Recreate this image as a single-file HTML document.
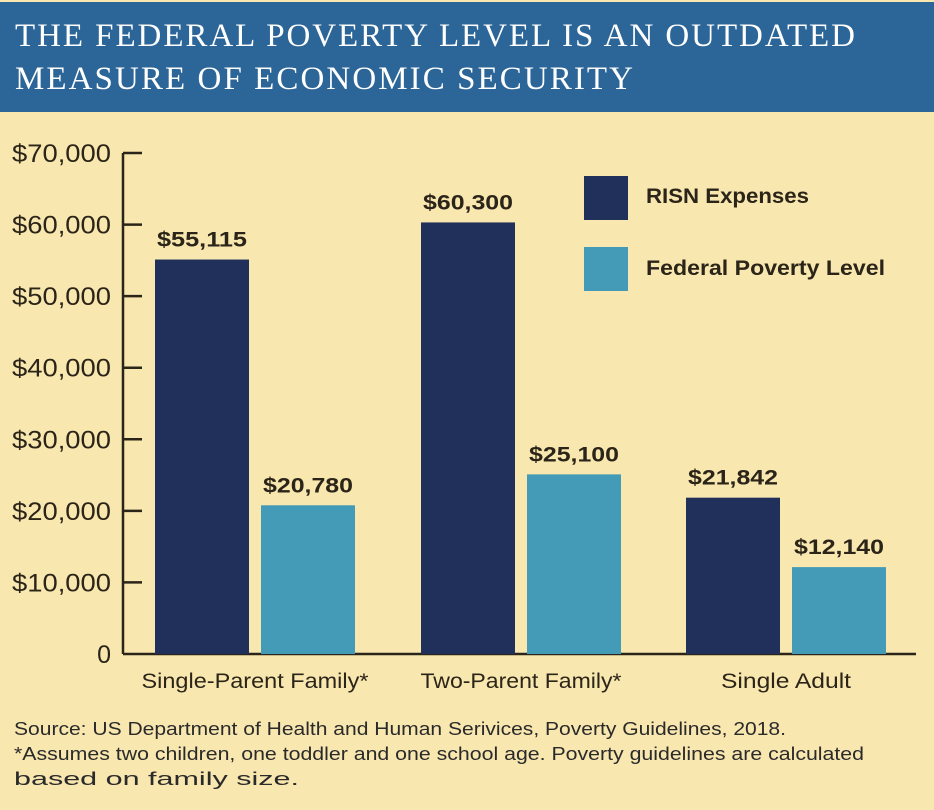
<!DOCTYPE html>
<html><head><meta charset="utf-8"><style>
body{margin:0;width:934px;height:810px;background:#f9e7b0;overflow:hidden;font-family:"Liberation Sans",sans-serif}
#hdr{position:absolute;left:0;top:2px;width:934px;height:110px;background:#2c6597}
</style></head><body>
<div id="hdr"></div>
<svg id="chart" width="934" height="810" style="position:absolute;left:0;top:0">
<text x="15" y="46" font-family="Liberation Serif, serif" font-size="33" fill="#fff" textLength="840" lengthAdjust="spacing">THE FEDERAL POVERTY LEVEL IS AN OUTDATED</text>
<text x="15" y="89" font-family="Liberation Serif, serif" font-size="33" fill="#fff" textLength="618" lengthAdjust="spacing">MEASURE OF ECONOMIC SECURITY</text>
<g font-size="18.5" fill="#2a2a2a">
<text x="14" y="735" textLength="772" lengthAdjust="spacingAndGlyphs">Source: US Department of Health and Human Serivices, Poverty Guidelines, 2018.</text>
<text x="14" y="760" textLength="850" lengthAdjust="spacingAndGlyphs">*Assumes two children, one toddler and one school age. Poverty guidelines are calculated</text>
<text x="14" y="785" textLength="285" lengthAdjust="spacingAndGlyphs">based on family size.</text>
</g>
</svg>
<script>
const categories=["Single-Parent Family*","Two-Parent Family*","Single Adult"];
const risn=[55115,60300,21842];
const fpl=[20780,25100,12140];
const ticks=[0,10000,20000,30000,40000,50000,60000,70000];
const tickLabels=["0","$10,000","$20,000","$30,000","$40,000","$50,000","$60,000","$70,000"];
const svg=document.getElementById('chart');const NS='http://www.w3.org/2000/svg';
const y0=654,yTop=153,yMax=70000;
const y=v=>y0-(v/yMax)*(y0-yTop);
const groupX=[155,421,686],barW=94,gap=12;
const catW=[227,201,130];
function mk(t,a,txt){const e=document.createElementNS(NS,t);for(const k in a)e.setAttribute(k,a[k]);if(txt!==undefined)e.textContent=txt;svg.appendChild(e);return e;}
const fmt=v=>'$'+v.toLocaleString('en-US');
let ax=mk('line',{x1:123,y1:y(70000),x2:123,y2:y0,stroke:'#2b2418','stroke-width':2.5});

let bx=mk('line',{x1:123,y1:y0,x2:916,y2:y0,stroke:'#2b2418','stroke-width':2.5});

ticks.forEach((t,i)=>{
 if(t>0){const l=mk('line',{x1:123,x2:142,y1:y(t),y2:y(t),stroke:'#2b2418','stroke-width':2.5});
 }
 const a={x:111,y:y(t)+9,'text-anchor':'end','font-size':25,fill:'#2b2418'};
 if(tickLabels[i].length>3){a.textLength=99;a.lengthAdjust='spacingAndGlyphs';}
 const tx=mk('text',a,tickLabels[i]);
 
});
categories.forEach((c,i)=>{
 const x=groupX[i];
 const r=mk('rect',{x:x,y:y(risn[i]),width:barW,height:y0-y(risn[i]),fill:'#20305b'});
 
 const f=mk('rect',{x:x+barW+gap,y:y(fpl[i]),width:barW,height:y0-y(fpl[i]),fill:'#449bb7'});
 
 const l1=mk('text',{x:x+barW/2,y:y(risn[i])-13,'text-anchor':'middle','font-size':21,'font-weight':'bold',fill:'#2b2418',textLength:90,lengthAdjust:'spacingAndGlyphs'},fmt(risn[i]));
 
 const l2=mk('text',{x:x+barW*1.5+gap,y:y(fpl[i])-13,'text-anchor':'middle','font-size':21,'font-weight':'bold',fill:'#2b2418',textLength:90,lengthAdjust:'spacingAndGlyphs'},fmt(fpl[i]));
 
 const cl=mk('text',{x:x+barW+gap/2,y:688,'text-anchor':'middle','font-size':21,fill:'#2b2418',textLength:catW[i],lengthAdjust:'spacingAndGlyphs'},c);
 
});
let g1=mk('rect',{x:584,y:176,width:44,height:44,fill:'#20305b'});
let g2=mk('rect',{x:584,y:247,width:44,height:44,fill:'#449bb7'});
let t1=mk('text',{x:646,y:203,'font-size':21,'font-weight':'bold',fill:'#2b2418',textLength:163,lengthAdjust:'spacingAndGlyphs'},'RISN Expenses');
let t2=mk('text',{x:646,y:275,'font-size':21,'font-weight':'bold',fill:'#2b2418',textLength:239,lengthAdjust:'spacingAndGlyphs'},'Federal Poverty Level');
</script>
</body></html>
